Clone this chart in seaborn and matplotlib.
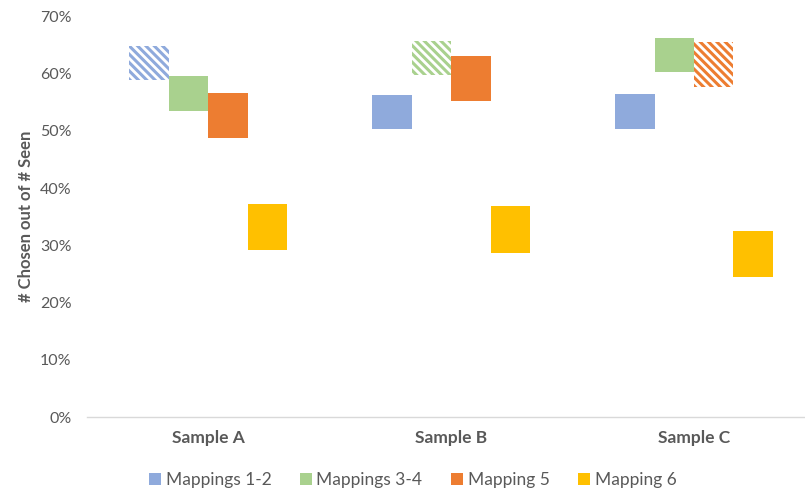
import matplotlib
matplotlib.use("Agg")
import matplotlib.pyplot as plt
import seaborn as sns
import pandas as pd
from matplotlib.ticker import PercentFormatter
from matplotlib.lines import Line2D

# Range (low, high) of the share chosen, per sample and mapping group
samples = ["Sample A", "Sample B", "Sample C"]
mappings = ["Mappings 1-2", "Mappings 3-4", "Mapping 5", "Mapping 6"]
low = {
    "Mappings 1-2": [0.589, 0.503, 0.503],
    "Mappings 3-4": [0.535, 0.597, 0.603],
    "Mapping 5":    [0.487, 0.552, 0.576],
    "Mapping 6":    [0.292, 0.287, 0.245],
}
high = {
    "Mappings 1-2": [0.649, 0.562, 0.564],
    "Mappings 3-4": [0.596, 0.657, 0.663],
    "Mapping 5":    [0.567, 0.631, 0.656],
    "Mapping 6":    [0.372, 0.368, 0.325],
}
# Group highlighted with a striped fill in each sample
highlighted = {"Sample A": "Mappings 1-2", "Sample B": "Mappings 3-4", "Sample C": "Mapping 5"}

colors = ["#8FAADC", "#A9D18E", "#ED7D31", "#FFC000"]
text_gray = "#595959"

rows = []
for m in mappings:
    for s, lo, hi in zip(samples, low[m], high[m]):
        rows.append({"sample": s, "mapping": m, "low": lo, "span": hi - lo})
df = pd.DataFrame(rows)

sns.set_theme(style="white")
plt.rcParams["font.family"] = ["Lato", "DejaVu Sans"]
plt.rcParams["hatch.linewidth"] = 2.2

fig = plt.figure(figsize=(8.05, 4.93), dpi=100)
ax = fig.add_axes([0.108, 0.154, 0.892, 0.8125])

sns.barplot(data=df, x="sample", y="span", hue="mapping", order=samples,
            hue_order=mappings, palette=colors, width=0.65, gap=0,
            linewidth=0, saturation=1, legend=False, ax=ax)

# Lift each bar so it spans from its low to its high value
for m, container in zip(mappings, ax.containers):
    for s, patch in zip(samples, container.patches):
        lo = df.loc[(df["sample"] == s) & (df["mapping"] == m), "low"].iloc[0]
        patch.set_y(lo)
        if highlighted[s] == m:
            col = patch.get_facecolor()
            patch.set_facecolor("white")
            patch.set_edgecolor(col)
            patch.set_hatch("\\\\\\\\")
            patch.set_linewidth(0)

ax.set_ylim(0, 0.7)
ax.set_xlim(-0.5, 2.457)
ax.yaxis.set_major_formatter(PercentFormatter(1.0, decimals=0))
ax.set_yticks([i / 10 for i in range(8)])
ax.tick_params(axis="y", labelsize=11.5, labelcolor=text_gray, length=0, pad=11)
ax.tick_params(axis="x", labelsize=12.5, labelcolor=text_gray, length=0, pad=9)
for lab in ax.get_xticklabels():
    lab.set_fontweight("bold")

for side in ["left", "right", "top"]:
    ax.spines[side].set_visible(False)
ax.spines["bottom"].set_color("#D9D9D9")
ax.spines["bottom"].set_linewidth(1)

ax.set_xlabel("")
ax.set_ylabel("# Chosen out of # Seen", fontsize=12, fontweight="bold",
              color=text_gray, labelpad=4)

handles = [Line2D([], [], marker="s", linestyle="none", markersize=9,
                  markerfacecolor=c, markeredgewidth=0) for c in colors]
fig.legend(handles, mappings, loc="center", bbox_to_anchor=(0.511, 0.026),
           ncol=4, frameon=False, fontsize=12.5, labelcolor=text_gray,
           handletextpad=0.1, columnspacing=1.5, handlelength=1.0)

fig.savefig("out.png", dpi=100)
